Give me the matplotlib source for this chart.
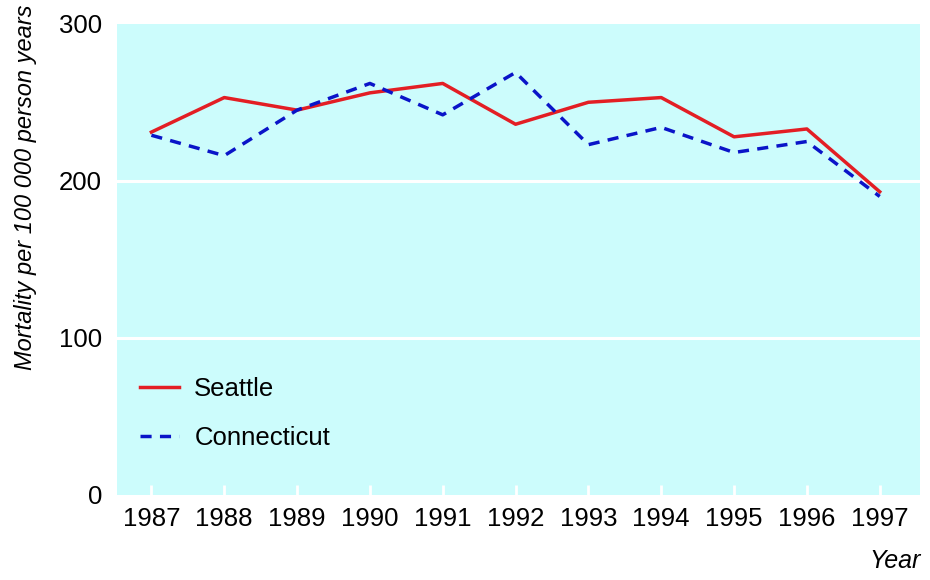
import matplotlib
matplotlib.use("Agg")
import matplotlib.pyplot as plt

years = [1987, 1988, 1989, 1990, 1991, 1992, 1993, 1994, 1995, 1996, 1997]
seattle = [231, 253, 245, 256, 262, 236, 250, 253, 228, 233, 193]
connecticut = [229, 216, 245, 262, 242, 269, 223, 234, 218, 225, 190]
y_ticks = [0, 100, 200, 300]

plt.rcParams['font.family'] = ['Liberation Sans', 'DejaVu Sans']

fig = plt.figure(figsize=(9.3, 5.8), dpi=100)
ax = fig.add_axes([0.126, 0.147, 0.863, 0.812])
ax.set_facecolor('#ccfcfc')

for y in y_ticks[1:-1]:
    ax.axhline(y, color='white', lw=2.2, zorder=1)

ax.plot(years, seattle, color='#e31e24', lw=2.5, label='Seattle', zorder=3)
ax.plot(years, connecticut, color='#0a14c8', lw=2.5, dashes=(3.2, 2.4),
        label='Connecticut', zorder=3)

ax.set_xlim(1986.53, 1997.55)
ax.set_ylim(0, 300)
ax.set_xticks(years)
ax.set_yticks(y_ticks)
ax.tick_params(axis='x', direction='in', length=7, width=2, color='white',
               labelsize=18.5, pad=9)
ax.tick_params(axis='y', length=0, labelsize=18.5, pad=11)
for s in ax.spines.values():
    s.set_visible(False)

ax.set_ylabel('Mortality per 100 000 person years', fontsize=17, style='italic')
ax.yaxis.set_label_coords(-0.1, 0.652)
fig.text(0.99, 0.012, 'Year', fontsize=18, style='italic', ha='right', va='bottom')

ax.legend(loc='upper left', bbox_to_anchor=(0.0, 0.30), frameon=False,
          fontsize=18.5, handlelength=1.5, labelspacing=1.0, handletextpad=0.6,
          borderaxespad=0.5)

fig.savefig('out.png', dpi=100, facecolor='white')
